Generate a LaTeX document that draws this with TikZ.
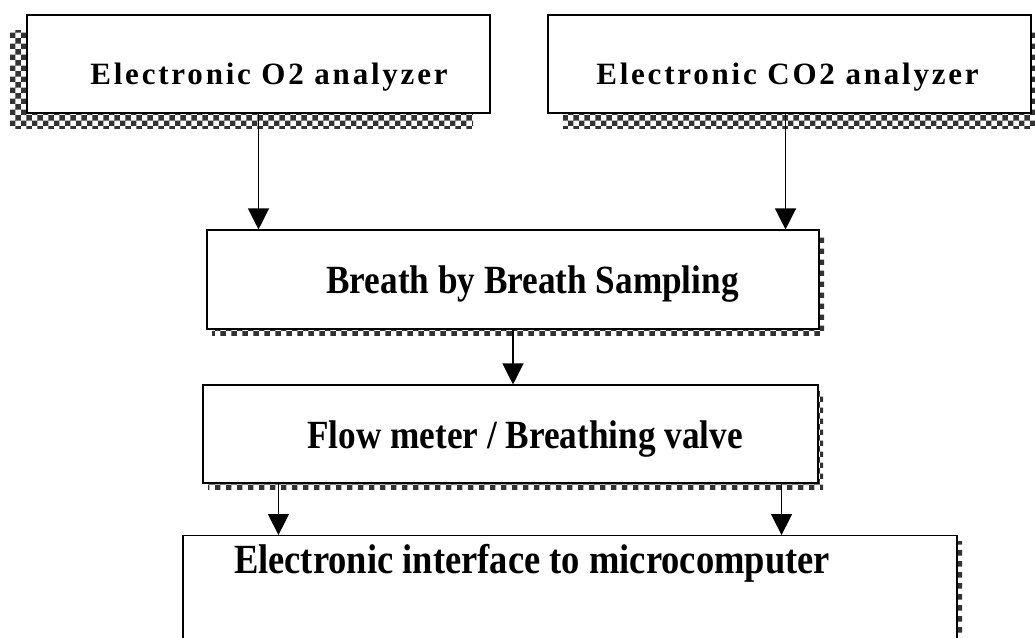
\documentclass[tikz,border=0pt]{standalone}
\usepackage{fontspec}
\setmainfont{Liberation Serif}
\newfontfamily\spacedfont[LetterSpace=9]{Liberation Serif}
\newfontfamily\narrowfont[FakeStretch=0.88]{Liberation Serif}
\usetikzlibrary{arrows.meta,patterns,shadows}

\tikzset{
	box/.style={draw, line width=1.1pt, fill=white, inner sep=0pt},
	topbox/.style={box, minimum height=98pt, text height=41pt, text depth=0pt,
		font=\spacedfont\bfseries\fontsize{31}{31}\selectfont},
	midbox/.style={box, minimum height=98pt, text height=28pt, text depth=0pt,
		font=\narrowfont\bfseries\fontsize{40}{40}\selectfont},
	hatch/.style={drop shadow={shadow xshift=#1, shadow yshift=-15pt, opacity=1,
		pattern=checkerboard, pattern color=black!80}},
	thinhatch/.style={drop shadow={shadow xshift=5pt, shadow yshift=-6pt, opacity=1,
		pattern=checkerboard, pattern color=black!80}},
	flowarrow/.style={line width=1.2pt, -{Triangle[length=21pt,width=21pt]}}
}

\begin{document}
\begin{tikzpicture}[x=1pt, y=-1pt]
	%%%%% START %%%%%
	\useasboundingbox (0, 0) rectangle (1035, 637);
	
	% analyzers
	\node[topbox, hatch=-17pt, minimum width=463pt] (otwo) at (258.5, 64)
		{\hspace*{21pt}Electronic O2 analyzer};
	\node[topbox, hatch=15pt, minimum width=483pt] (cotwo) at (789.5, 64)
		{Electronic CO2 analyzer\hspace*{4pt}};
	
	% sampling and valve
	\node[midbox, thinhatch, minimum width=612pt, minimum height=99pt] (breath) at (513, 279.5)
		{\hspace*{39pt}Breath by Breath Sampling};
	\node[midbox, thinhatch, minimum width=615pt] (flow) at (510.5, 434)
		{\hspace*{29pt}Flow meter / Breathing valve};
	
	% interface, runs off the page
	\node[box, thinhatch, anchor=north, minimum width=774pt, inner ysep=10pt,
		text height=28pt, text depth=100pt,
		font=\narrowfont\bfseries\fontsize{41.5}{41.5}\selectfont] (iface) at (570, 535)
		{Electronic interface to microcomputer\hspace*{76pt}};
	
	\draw[flowarrow] (otwo.south) -- (otwo.south |- breath.north);
	\draw[flowarrow] ([xshift=-4pt]cotwo.south) -- ([xshift=-4pt]cotwo.south |- breath.north);
	\draw[flowarrow] (breath.south) -- (breath.south |- flow.north);
	\draw[flowarrow] ([xshift=76pt]flow.south west) -- ([xshift=76pt]flow.south west |- iface.north);
	\draw[flowarrow] ([xshift=-37pt]flow.south east) -- ([xshift=-37pt]flow.south east |- iface.north);
	%%%%% END %%%%%
\end{tikzpicture}
\end{document}
